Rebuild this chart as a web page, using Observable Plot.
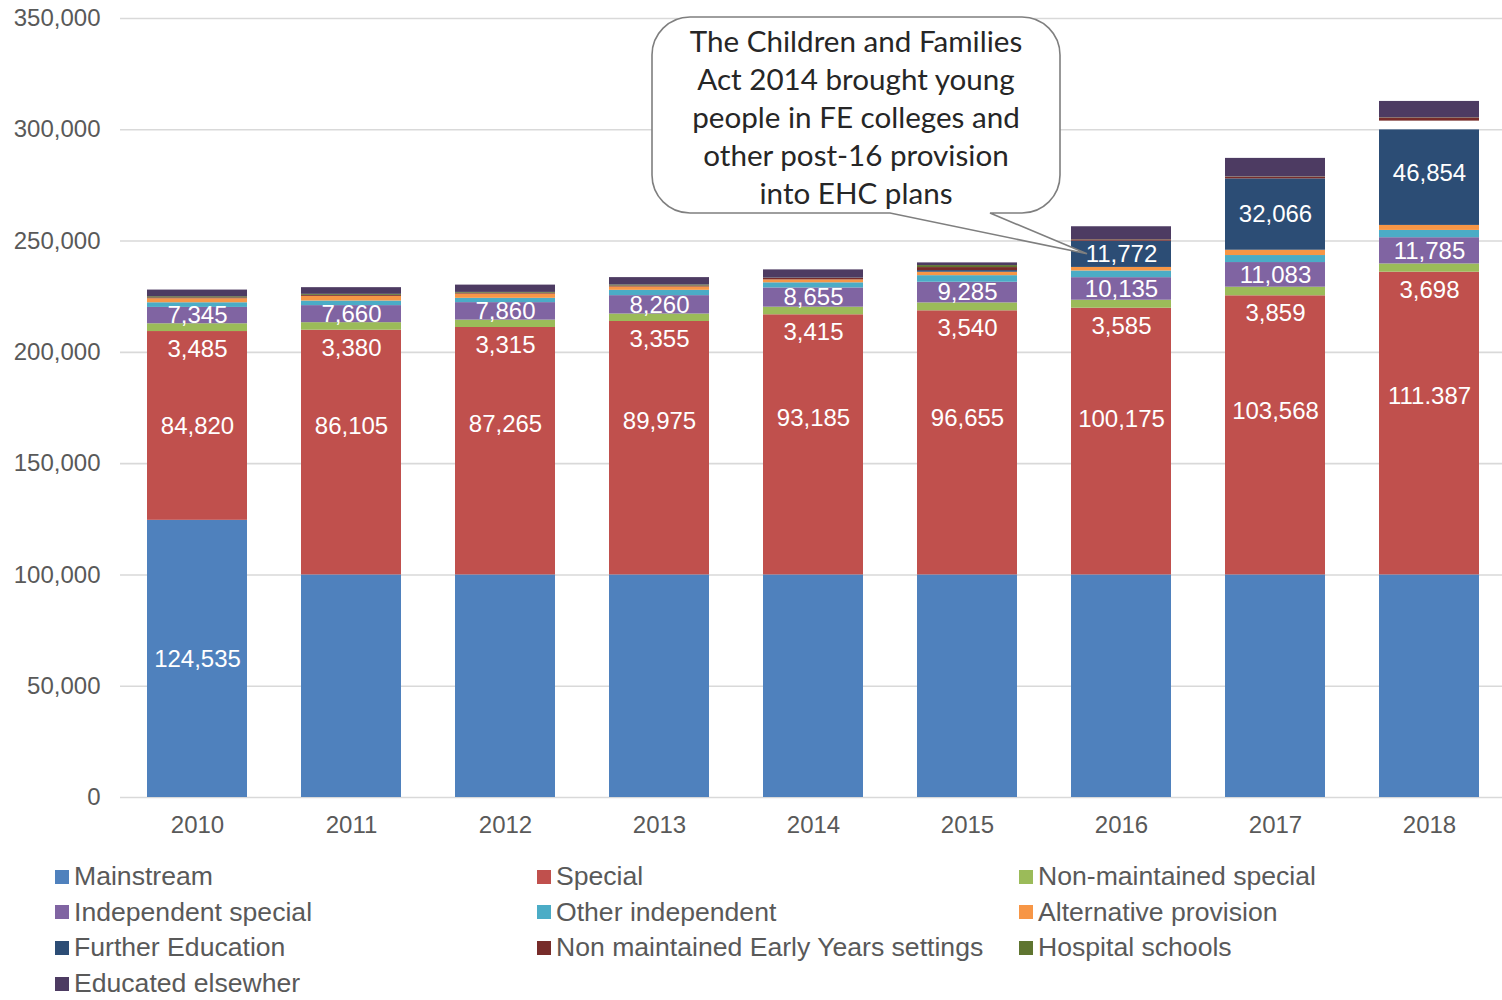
<!DOCTYPE html>
<html>
<head>
<meta charset="utf-8">
<script src="https://cdn.jsdelivr.net/npm/d3@7"></script>
<script src="https://cdn.jsdelivr.net/npm/@observablehq/plot@0.6"></script>
<style>
  html, body { margin: 0; padding: 0; background: #fff; }
  #wrap { position: relative; width: 1502px; height: 1000px; overflow: hidden; }
  #legend { position: absolute; left: 55px; top: 859px; display: grid;
    grid-template-columns: 482px 482px 482px; grid-auto-rows: 35.6px;
    font-family: "Liberation Sans", Arial, sans-serif; font-size: 26.6px; color: #595959; }
  .item { display: flex; align-items: center; white-space: nowrap; }
  .sw { width: 14px; height: 14px; margin-right: 5px; flex: none; }
</style>
</head>
<body>
<div id="wrap"><div id="chart"></div><div id="legend"></div></div>
<script>
const years = ["2010","2011","2012","2013","2014","2015","2016","2017","2018"];
// segment heights as drawn in the picture
const mainstream = [124535,100000,100000,100000,100000,100000,100000,100000,100000];
const special = [84820,109960,111170,113870,116880,118670,119840,125410,136020];
const nonMaintainedSpecial = [3485,3380,3315,3355,3415,3540,3585,3859,3698];
const independentSpecial = [7345,7660,7860,8260,8655,9285,10135,11083,11785];
const otherIndependent = [2100,2070,1930,2380,2300,2970,3000,3150,3280];
const alternativeProvision = [1800,2100,1900,1500,1300,1530,1600,2380,2250];
const furtherEducation = [0,0,0,0,0,750,11772,32066,43000];
const furtherEducationUnpainted = [0,0,0,0,0,0,0,0,3854];
const earlyYears = [400,450,400,450,700,1350,600,800,1430];
const hospitalSchools = [500,450,360,450,100,900,100,100,100];
const educatedElsewhere = [3000,3000,3280,3320,3700,1200,5800,8300,7320];

// data labels as printed
const mainstreamLabels = ["124,535","","","","","","","",""];
const specialLabels = ["84,820","86,105","87,265","89,975","93,185","96,655","100,175","103,568","111.387"];
const nonMaintainedSpecialLabels = ["3,485","3,380","3,315","3,355","3,415","3,540","3,585","3,859","3,698"];
const independentSpecialLabels = ["7,345","7,660","7,860","8,260","8,655","9,285","10,135","11,083","11,785"];
const furtherEducationLabels = ["","","","","","","11,772","32,066","46,854"];

const yTicks = [0,50000,100000,150000,200000,250000,300000,350000];

const seriesNames = ["Mainstream","Special","Non-maintained special","Independent special","Other independent","Alternative provision","Further Education","(unpainted)","Non maintained Early Years settings","Hospital schools","Educated elsewhere"];
const seriesValues = [mainstream,special,nonMaintainedSpecial,independentSpecial,otherIndependent,alternativeProvision,furtherEducation,furtherEducationUnpainted,earlyYears,hospitalSchools,educatedElsewhere];
const seriesColors = ["#4F81BD","#C0504D","#9BBB59","#8064A2","#4BACC6","#F79646","#2C4D75","#FFFFFF","#772C2A","#5F7530","#4D3B62"];
const legendNames = ["Mainstream","Special","Non-maintained special","Independent special","Other independent","Alternative provision","Further Education","Non maintained Early Years settings","Hospital schools","Educated elsewher"];
const legendColors = ["#4F81BD","#C0504D","#9BBB59","#8064A2","#4BACC6","#F79646","#2C4D75","#772C2A","#5F7530","#4D3B62"];

const rows = [];
seriesNames.forEach((s, si) => years.forEach((yr, i) => rows.push({year: yr, series: s, value: seriesValues[si][i]})));

const num = s => +s.replace(/[.,]/g, "");
const centredLabels = [];
const belowLabels = [];
years.forEach((yr, i) => {
  const redTop = mainstream[i] + special[i];
  const greenTop = redTop + nonMaintainedSpecial[i];
  const purpleTop = greenTop + independentSpecial[i];
  const feBase = purpleTop + otherIndependent[i] + alternativeProvision[i];
  if (mainstreamLabels[i]) centredLabels.push({year: yr, y: num(mainstreamLabels[i]) / 2, text: mainstreamLabels[i]});
  centredLabels.push({year: yr, y: redTop - num(specialLabels[i]) / 2, text: specialLabels[i]});
  belowLabels.push({year: yr, y: redTop, text: nonMaintainedSpecialLabels[i]});
  centredLabels.push({year: yr, y: (greenTop + purpleTop) / 2, text: independentSpecialLabels[i]});
  if (furtherEducationLabels[i]) centredLabels.push({year: yr, y: feBase + num(furtherEducationLabels[i]) / 2, text: furtherEducationLabels[i]});
});

const plot = Plot.plot({
  width: 1502,
  height: 850,
  marginTop: 18,
  marginBottom: 53,
  marginLeft: 120,
  marginRight: 0,
  style: {fontFamily: "'Liberation Sans', Arial, sans-serif", background: "#fff"},
  x: {domain: years, range: [122, 1504], paddingInner: 0.35, paddingOuter: 0.16, label: null},
  y: {domain: [0, 350000], label: null},
  color: {domain: seriesNames, range: seriesColors},
  marks: [
    Plot.ruleY(yTicks, {stroke: "#d9d9d9", strokeWidth: 1.6}),
    Plot.barY(rows, {x: "year", y: "value", fill: "series", order: seriesNames, inset: 0}),
    Plot.text(centredLabels, {x: "year", y: "y", text: "text", fill: "white", fontSize: 24}),
    Plot.text(belowLabels, {x: "year", y: "y", text: "text", dy: 18, fill: "white", fontSize: 24}),
    Plot.axisY({ticks: yTicks, tickFormat: d3.format(","), tickSize: 0, tickPadding: 20, fontSize: 24, color: "#595959", label: null}),
    Plot.axisX({tickSize: 0, tickPadding: 18, fontSize: 24, color: "#595959", label: null})
  ]
});
document.getElementById("chart").appendChild(plot);

// callout annotation
const xs = plot.scale("x"), ys = plot.scale("y");
const i16 = years.indexOf("2016");
const feBase16 = mainstream[i16] + special[i16] + nonMaintainedSpecial[i16] + independentSpecial[i16] + otherIndependent[i16] + alternativeProvision[i16];
const tipX = xs.apply("2016") + 16;
const tipY = ys.apply(feBase16 + furtherEducation[i16] / 2);
const bx0 = 652, bx1 = 1060, by0 = 17, by1 = 213, r = 38, t0 = 890, t1 = 990;
const path = `M${bx0 + r},${by0} L${bx1 - r},${by0} A${r},${r} 0 0 1 ${bx1},${by0 + r} L${bx1},${by1 - r} A${r},${r} 0 0 1 ${bx1 - r},${by1} L${t1},${by1} L${tipX},${tipY} L${t0},${by1} L${bx0 + r},${by1} A${r},${r} 0 0 1 ${bx0},${by1 - r} L${bx0},${by0 + r} A${r},${r} 0 0 1 ${bx0 + r},${by0} Z`;
const svg = d3.select(plot);
const g = svg.append("g");
g.append("path").attr("d", path).attr("fill", "white").attr("stroke", "#7f7f7f").attr("stroke-width", 1.6);
const calloutLines = ["The Children and Families","Act 2014 brought young","people in FE colleges and","other post-16 provision","into EHC plans"];
calloutLines.forEach((t, k) => {
  g.append("text").attr("x", 856).attr("y", 42 + k * 37.8).attr("dy", "0.35em")
    .attr("text-anchor", "middle").attr("font-family", "Lato, 'Open Sans', sans-serif")
    .attr("font-size", 29.6).attr("fill", "#262626").text(t);
});

// legend
const lg = document.getElementById("legend");
legendNames.forEach((n, k) => {
  const d = document.createElement("div"); d.className = "item";
  const s = document.createElement("span"); s.className = "sw"; s.style.background = legendColors[k];
  const t = document.createElement("span"); t.textContent = n;
  d.appendChild(s); d.appendChild(t); lg.appendChild(d);
});
</script>
</body>
</html>
